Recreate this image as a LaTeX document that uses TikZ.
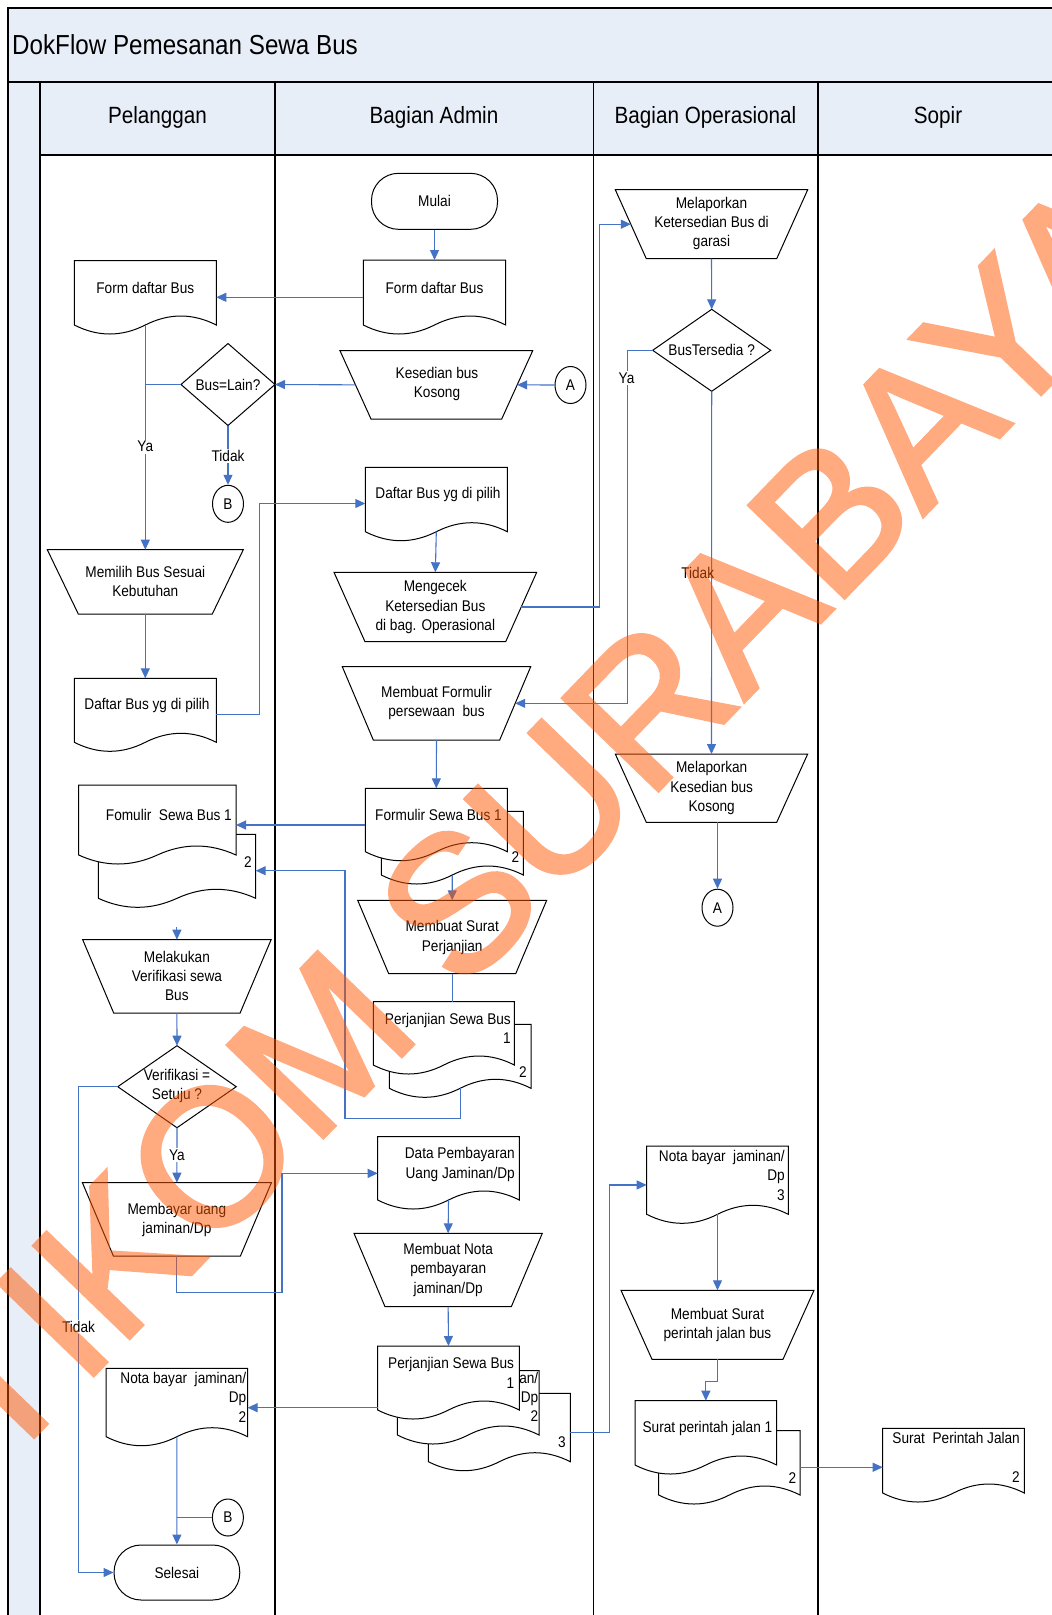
\documentclass[tikz,border=0pt]{standalone}
\usepackage{fontspec}
\setmainfont{Liberation Sans}[FakeStretch=0.88]
\newfontfamily\wmfont{Liberation Sans}[FakeBold=2]
\usetikzlibrary{arrows.meta,shapes.geometric}

\definecolor{lanefill}{RGB}{232,238,248}
\definecolor{flowblue}{RGB}{68,114,196}
\definecolor{wmorange}{RGB}{255,85,0}

\newcommand{\bodyfont}{\fontsize{15.5}{19.3}\selectfont}
\newcommand{\headfont}{\fontsize{23.5}{28}\selectfont}
\newcommand{\titlefont}{\fontsize{27.5}{33}\selectfont}

% document symbol: name, left, top, right, base of the wave
\newcommand{\docshape}[5]{%
  \path[shp] (#2,#3) -- (#4,#3) -- (#4,#5)
    .. controls ({#4-(#4-#2)/6},{#5-12}) and ({#4-(#4-#2)/3},{#5-12}) .. ({(#2+#4)/2},#5)
    .. controls ({#2+(#4-#2)/3},{#5+12}) and ({#2+(#4-#2)/6},{#5+12}) .. (#2,#5) -- cycle;
  \node[hitbox, minimum width={#4-#2}, minimum height={#5-#3}] (#1) at ({(#2+#4)/2},{(#3+#5)/2}) {};}

% manual operation: name, left, top, right, bottom, inset of the lower corners
\newcommand{\manop}[6]{%
  \path[shp] (#2,#3) -- (#4,#3) -- ({#4-#6},#5) -- ({#2+#6},#5) -- cycle;
  \node[hitbox, minimum width={#4-#2}, minimum height={#5-#3}] (#1) at ({(#2+#4)/2},{(#3+#5)/2}) {};
  \coordinate (#1-l) at ({#2+#6/2},{(#3+#5)/2});
  \coordinate (#1-r) at ({#4-#6/2},{(#3+#5)/2});}

% decision: name, centre x, centre y, width, height
\newcommand{\decision}[5]{%
  \node[hitbox, minimum width=#4, minimum height=#5] (#1) at (#2,#3) {};
  \path[shp] (#1.west) -- (#1.north) -- (#1.east) -- (#1.south) -- cycle;}

\begin{document}
\begin{tikzpicture}[x=1pt,y=-1pt,
  shp/.style={draw=black, line width=1pt, fill=white},
  hitbox/.style={rectangle, draw=none, inner sep=0pt, outer sep=0pt},
  body/.style={font=\bodyfont, align=center, inner sep=0pt},
  rbody/.style={body, align=right, anchor=east},
  flow/.style={draw=flowblue, line width=1.1pt},
  arr/.style={flow, -{Triangle[length=10pt,width=9pt]}},
  lbl/.style={body, fill=white, inner sep=1.5pt},
  lane/.style={draw=black, line width=1.2pt},
  term/.style={shp, body, rounded corners=27pt},
  conn/.style={shp, body, ellipse, minimum width=31pt, minimum height=37pt, inner sep=0pt}]

\useasboundingbox (0,0) rectangle (1052,1615);

% ---------- pool and swimlanes ----------
\path[lane, fill=lanefill] (8,8) rectangle (1075,82);
\path[lane, fill=lanefill] (8,82) rectangle (40,1640);
\path[lane, fill=lanefill] (40,82) rectangle (1075,155);
\draw[lane] (275,82) -- (275,1640);
\draw[lane] (593.5,82) -- (593.5,1640);
\draw[lane] (818,82) -- (818,1640);

\node[font=\titlefont, anchor=west, inner sep=0pt] (title) at (12,45) {DokFlow Pemesanan Sewa Bus};
\node[font=\headfont, inner sep=0pt] (hPel) at (157.5,117.5) {Pelanggan};
\node[font=\headfont, inner sep=0pt] (hAdm) at (434,117.5) {Bagian Admin};
\node[font=\headfont, inner sep=0pt] (hOps) at (705.5,117.5) {Bagian Operasional};
\node[font=\headfont, inner sep=0pt] (hSop) at (938,117.5) {Sopir};

% ---------- Pelanggan ----------
\docshape{fdbP}{74.3}{260.7}{216.3}{325}
\node[body] (fdbP-t) at (145.3,287.7) {Form daftar Bus};
\decision{buslain}{228}{384.5}{94}{82}
\node[body] (buslain-t) at (228,384.5) {Bus=Lain?};
\node[conn] (B1) at (228,503.8) {B};
\manop{memilih}{47.3}{549.7}{243.3}{614}{31}
\node[body] (memilih-t) at (145.3,581.7) {Memilih Bus Sesuai\\Kebutuhan};
\docshape{dbpP}{74.3}{678.3}{216.3}{742.3}
\node[body] (dbpP-t) at (147,705.7) {Daftar Bus yg di pilih};
\docshape{fsbP2}{98.3}{834.3}{255.7}{898.3}
\docshape{fsbP}{78.7}{785}{236}{855}
\node[rbody] (fsbP-t) at (232,815) {Fomulir\ \ Sewa Bus 1};
\node[rbody] (fsbP2-t) at (252,861.7) {2};
\manop{verif}{82.7}{939.7}{271.1}{1013}{31}
\node[body] (verif-t) at (176.9,976) {Melakukan\\Verifikasi sewa\\Bus};
\decision{setuju}{177}{1086.7}{118.5}{82}
\node[body] (setuju-t) at (177,1086) {Verifikasi =\\Setuju ?};
\manop{bayar}{82.4}{1182.7}{271.4}{1256}{31}
\node[body] (bayar-t) at (176.9,1219.7) {Membayar uang\\jaminan/Dp};
\docshape{notaP}{106.1}{1368.3}{247.6}{1436.7}
\node[rbody] (notaP-t) at (246.5,1397.2) {Nota bayar\ \ jaminan/\\Dp\\2};
\node[conn] (B2) at (227.9,1517.5) {B};
\node[term, minimum width=125.7pt, minimum height=55pt] (selesai) at (176.9,1572.5) {Selesai};

% ---------- Bagian Admin ----------
\node[term, minimum width=126pt, minimum height=56pt] (mulai) at (434.5,201.3) {Mulai};
\docshape{fdbA}{363.3}{260}{505.7}{325}
\node[body] (fdbA-t) at (434.5,287.7) {Form daftar Bus};
\manop{kesedian}{340}{350.7}{532.7}{419}{31}
\node[body] (kesedian-t) at (437,384) {Kesedian bus\\Kosong};
\node[conn] (A1) at (570.5,385) {A};
\docshape{dbpA}{365.3}{467.3}{507.3}{531.7}
\node[body] (dbpA-t) at (438,494.3) {Daftar Bus yg di pilih};
\manop{mengecek}{334}{572.3}{536.7}{641.7}{31}
\node[body] (mengecek-t) at (435.3,607) {Mengecek\\Ketersedian Bus\\di bag. Operasional};
\manop{formulir}{342.3}{666.7}{530.7}{740}{31}
\node[body] (formulir-t) at (436.5,703) {Membuat Formulir\\persewaan\ \ bus};
\docshape{fsbA2}{381.3}{811.3}{523.3}{875}
\docshape{fsbA}{365.3}{788.3}{507.3}{851.7}
\node[body] (fsbA-t) at (438.5,815) {Formulir Sewa Bus 1};
\node[rbody] (fsbA2-t) at (519.5,857.3) {2};
\manop{surat}{357.7}{900.3}{546.7}{973.7}{31}
\node[body] (surat-t) at (452.2,937.5) {Membuat Surat\\Perjanjian};
\docshape{psbA2}{389.3}{1024.3}{531}{1088.3}
\docshape{psbA}{373.3}{1001.7}{514.3}{1065}
\node[rbody] (psbA-t) at (511,1028.3) {Perjanjian Sewa Bus\\1};
\node[rbody] (psbA2-t) at (527,1071.7) {2};
\docshape{dataPb}{377.7}{1136.7}{519.3}{1200}
\node[rbody] (dataPb-t) at (515,1164.5) {Data Pembayaran\\Uang Jaminan/Dp};
\manop{nota}{354}{1233.3}{542.3}{1306.7}{31}
\node[body] (nota-t) at (448.2,1269.8) {Membuat Nota\\pembayaran\\jaminan/Dp};
\docshape{psb3c}{428.4}{1393.3}{570.3}{1461.7}
\node[rbody] (psb3c-t) at (566,1441.7) {3};
\docshape{psb3b}{397.4}{1370.7}{539}{1435}
\node[rbody] (psb3b-t) at (538.5,1397) {Nota bayar\ \ jaminan/\\Dp\\2};
\docshape{psb3}{377.7}{1346}{519.3}{1410}
\node[rbody] (psb3-t) at (514.3,1373) {Perjanjian Sewa Bus\\1};

% ---------- Bagian Operasional ----------
\manop{garasi}{615.3}{189.7}{807.7}{258.7}{31}
\node[body] (garasi-t) at (711.5,223.5) {Melaporkan\\Ketersedian Bus di\\garasi};
\decision{tersedia}{711.7}{350.3}{118}{82}
\node[body] (tersedia-t) at (711.7,350) {BusTersedia ?};
\manop{kosong}{615.3}{754}{807.7}{822.3}{31}
\node[body] (kosong-t) at (711.7,788) {Melaporkan\\Kesedian bus\\Kosong};
\node[conn] (A2) at (717.5,907.7) {A};
\docshape{notaO}{646.7}{1146}{788.3}{1214.3}
\node[rbody] (notaO-t) at (785,1175.3) {Nota bayar\ \ jaminan/\\Dp\\3};
\manop{spj}{621}{1290.3}{814}{1359.3}{31}
\node[body] (spj-t) at (717.5,1325) {Membuat Surat\\perintah jalan bus};
\docshape{spj2}{658.7}{1430.7}{800}{1495}
\docshape{spjD}{635}{1400.7}{776.7}{1465}
\node[rbody] (spjD-t) at (772.5,1428.3) {Surat perintah jalan 1};
\node[rbody] (spj2-t) at (796.5,1477.7) {2};

% ---------- Sopir ----------
\docshape{spjS}{882.7}{1428.3}{1024.3}{1493}
\node[rbody] (spjS-t) at (1020,1437.7) {Surat\ \ Perintah Jalan};
\node[rbody] (spjS-n) at (1020,1476.7) {2};

% ---------- connectors ----------
\draw[arr] (mulai.south) -- (fdbA.north);
\draw[arr] ([yshift=-4.8pt]fdbA.west) -- ([yshift=-4.8pt]fdbA.west -| fdbP.east);
\draw[arr] (fdbP.south) -- (memilih.north);
\draw[flow] (buslain.west) -- (buslain.west -| fdbP.south);
\draw[arr] (kesedian-l) -- (buslain.east);
\draw[arr] (A1.west) -- (kesedian-r);
\draw[arr] (buslain.south) -- (B1.north);
\draw[arr] (memilih.south) -- (dbpP.north);
\draw[arr] ([yshift=-4pt]dbpP.east) -- ++(43,0) |- ([yshift=-4pt]dbpA.west);
\draw[arr] (dbpA.south) -- (mengecek.north);
\draw[arr] (mengecek-r) -- ++(78,0) |- (garasi-l);
\draw[arr] (garasi.south) -- (tersedia.north);
\draw[arr] (tersedia.west) -- ++(-25.4,0) |- (formulir-r);
\draw[arr] (tersedia.south) -- (kosong.north);
\draw[arr] (kosong.south -| A2.north) -- (A2.north);
\draw[arr] (formulir.south) -- (fsbA.north);
\draw[arr] ([yshift=-5pt]fsbA.west) -- ([yshift=-5pt]fsbA.west -| fsbP.east);
\draw[arr] (fsbA2.south) -- (surat.north);
\draw[flow] (surat.south) -- (surat.south |- psbA.north);
\draw[arr] (psbA2.south) |- (345,1118.3) |- ([yshift=-4.4pt]fsbP2.east);
\coordinate (stub) at (176.9,927);
\draw[arr] (stub) -- (verif.north);
\draw[arr] (verif.south) -- (setuju.north);
\draw[arr] (setuju.south) -- (bayar.north);
\draw[arr] (setuju.west) -- ++(-39.6,0) |- (selesai.west);
\draw[arr] (bayar.south) |- (282,1292.3) |- ([yshift=-5pt]dataPb.west);
\draw[arr] (dataPb.south) -- (nota.north);
\draw[arr] (nota.south) -- (psb3.north);
\draw[arr] ([yshift=-29.7pt]psb3.west) -- ([yshift=-29.7pt]psb3.west -| notaP.east);
\draw[arr] ([yshift=-4.8pt]psb3c.east) -- ++(39,0) |- ([yshift=-4.8pt]notaO.west);
\draw[arr] (notaO.south) -- (spj.north);
\draw[arr] (spj.south) -- ++(0,22.4) -| (spjD.north);
\draw[arr] ([yshift=-4.4pt]spj2.east) -- ([yshift=-4.4pt]spj2.east -| spjS.west);
\draw[arr] (notaP.south) -- (selesai.north);
\draw[flow] (B2.west) -- (B2.west -| notaP.south);

% ---------- branch labels ----------
\node[lbl] (yaA) at (145.3,446.7) {Ya};
\node[lbl] (tidakA) at (228,455.7) {Tidak};
\node[lbl] (yaB) at (626.5,378.3) {Ya};
\node[body] (tidakB) at (697.7,573.3) {Tidak};
\node[lbl] (yaC) at (176.9,1155) {Ya};
\node[lbl] (tidakC) at (78.5,1326.7) {Tidak};

% ---------- watermark ----------
\begin{scope}
  \clip (0,0) rectangle (1052,1615);
  \begin{scope}[transparency group, opacity=0.5]
    \node[font=\wmfont\fontsize{193}{193}\selectfont, text=wmorange,
          inner sep=0pt, rotate=46] (wm) at (493,866) {STIKOM SURABAYA};
  \end{scope}
\end{scope}
\end{tikzpicture}
\end{document}
